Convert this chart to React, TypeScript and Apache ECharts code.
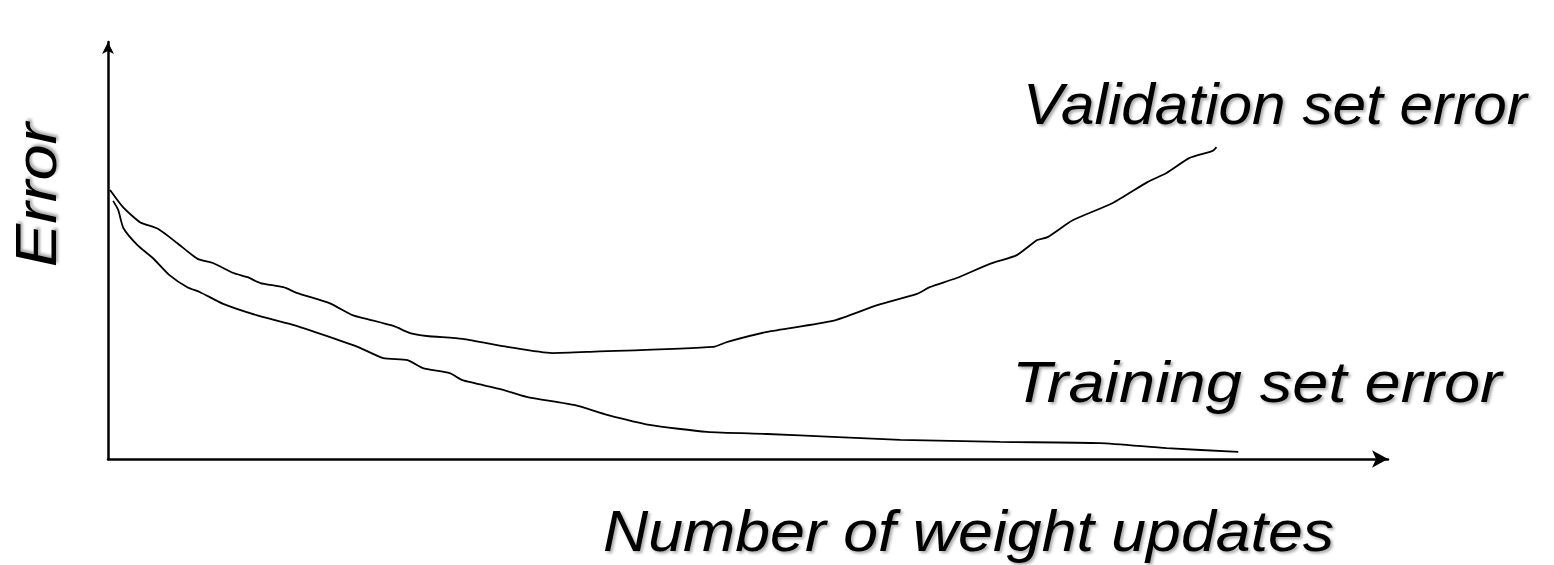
import React, { useEffect, useRef } from "react";
import * as echarts from "echarts";

// Validation set error curve: [number of weight updates, error] (normalized 0-100)
const validationX = [0.16, 1.17, 2.5, 3.9, 5.4, 7.0, 8.2, 9.8, 10.9, 11.9, 13.7, 14.8, 17.3, 19.1, 20.2, 22.3, 23.6, 24.9, 27.7, 31.2, 34.7, 37.7, 47.3, 48.4, 51.5, 56.6, 60.1, 63.2, 64.2, 66.3, 68.9, 71.0, 72.6, 73.4, 75.4, 78.5, 81.2, 82.7, 84.5, 86.3, 86.6];
const validationY = [64.5, 60.4, 56.8, 55.2, 51.8, 48.0, 47.0, 44.6, 43.6, 42.2, 41.2, 39.8, 37.4, 34.5, 33.6, 31.9, 30.2, 29.5, 28.8, 26.9, 25.4, 25.7, 26.9, 28.1, 30.5, 33.1, 36.9, 39.6, 41.2, 43.4, 46.8, 48.9, 52.5, 53.2, 57.3, 61.4, 66.4, 68.6, 72.2, 73.9, 74.8];

// Training set error curve
const trainingX = [0.4, 0.8, 1.2, 2.3, 3.5, 4.8, 6.2, 7.2, 9.0, 11.6, 14.2, 16.6, 19.5, 21.5, 23.4, 24.6, 26.7, 27.7, 30.6, 32.7, 36.5, 39.0, 42.3, 46.8, 51.5, 56.6, 61.9, 69.7, 77.5, 82.7, 88.3];
const trainingY = [61.9, 59.7, 55.4, 51.3, 48.2, 44.1, 41.2, 40.0, 37.2, 34.5, 32.4, 30.0, 26.9, 24.2, 23.7, 21.8, 20.6, 18.9, 16.8, 14.9, 12.9, 10.6, 8.2, 6.5, 6.0, 5.3, 4.6, 4.1, 3.8, 2.6, 1.7];

const xAxisTitle = "Number of weight updates";
const yAxisTitle = "Error";
const validationLabel = "Validation set error";
const trainingLabel = "Training set error";

const FONT = "italic 58px 'Liberation Sans', Arial, sans-serif";
const shadow = { textShadowColor: "rgba(0,0,0,0.35)", textShadowBlur: 3, textShadowOffsetX: 2, textShadowOffsetY: 2 };

export default function App() {
  const ref = useRef<HTMLDivElement>(null);
  useEffect(() => {
    if (!ref.current) return;
    const chart = echarts.init(ref.current, null, { renderer: "svg" });
    const zip = (xs: number[], ys: number[]) => xs.map((x, i) => [x, ys[i]]);
    chart.setOption({
      animation: false,
      backgroundColor: "#ffffff",
      grid: { left: 108, right: 166, top: 42, bottom: 106 },
      xAxis: {
        type: "value",
        min: 0,
        max: 100,
        axisLine: { show: true, lineStyle: { color: "#000", width: 2.5 }, symbol: ["none", "arrow"], symbolSize: [13, 16] },
        axisTick: { show: false },
        axisLabel: { show: false },
        splitLine: { show: false },
      },
      yAxis: {
        type: "value",
        min: 0,
        max: 100,
        axisLine: { show: true, lineStyle: { color: "#000", width: 2.5 }, symbol: ["none", "arrow"], symbolSize: [9, 12] },
        axisTick: { show: false },
        axisLabel: { show: false },
        splitLine: { show: false },
      },
      series: [
        {
          name: validationLabel,
          type: "line",
          data: zip(validationX, validationY),
          showSymbol: false,
          smooth: 0.2,
          lineStyle: { color: "#000", width: 1.8 },
        },
        {
          name: trainingLabel,
          type: "line",
          data: zip(trainingX, trainingY),
          showSymbol: false,
          smooth: 0.2,
          lineStyle: { color: "#000", width: 1.8 },
        },
      ],
      graphic: [
        { type: "text", x: 1023, y: 104, scaleX: 1.04, style: { text: validationLabel, font: FONT, fill: "#000", textAlign: "left", textVerticalAlign: "middle", ...shadow } },
        { type: "text", x: 1012, y: 382, scaleX: 1.12, style: { text: trainingLabel, font: FONT, fill: "#000", textAlign: "left", textVerticalAlign: "middle", ...shadow } },
        { type: "text", x: 603, y: 531, scaleX: 1.08, style: { text: xAxisTitle, font: FONT, fill: "#000", textAlign: "left", textVerticalAlign: "middle", ...shadow } },
        { type: "text", x: 36, y: 195, rotation: Math.PI / 2, scaleX: 1.12, style: { text: yAxisTitle, font: FONT, fill: "#000", textAlign: "center", textVerticalAlign: "middle", ...shadow } },
      ],
    });
    return () => chart.dispose();
  }, []);
  return <div ref={ref} style={{ width: 1554, height: 565, position: "absolute", left: 0, top: 0 }} />;
}
